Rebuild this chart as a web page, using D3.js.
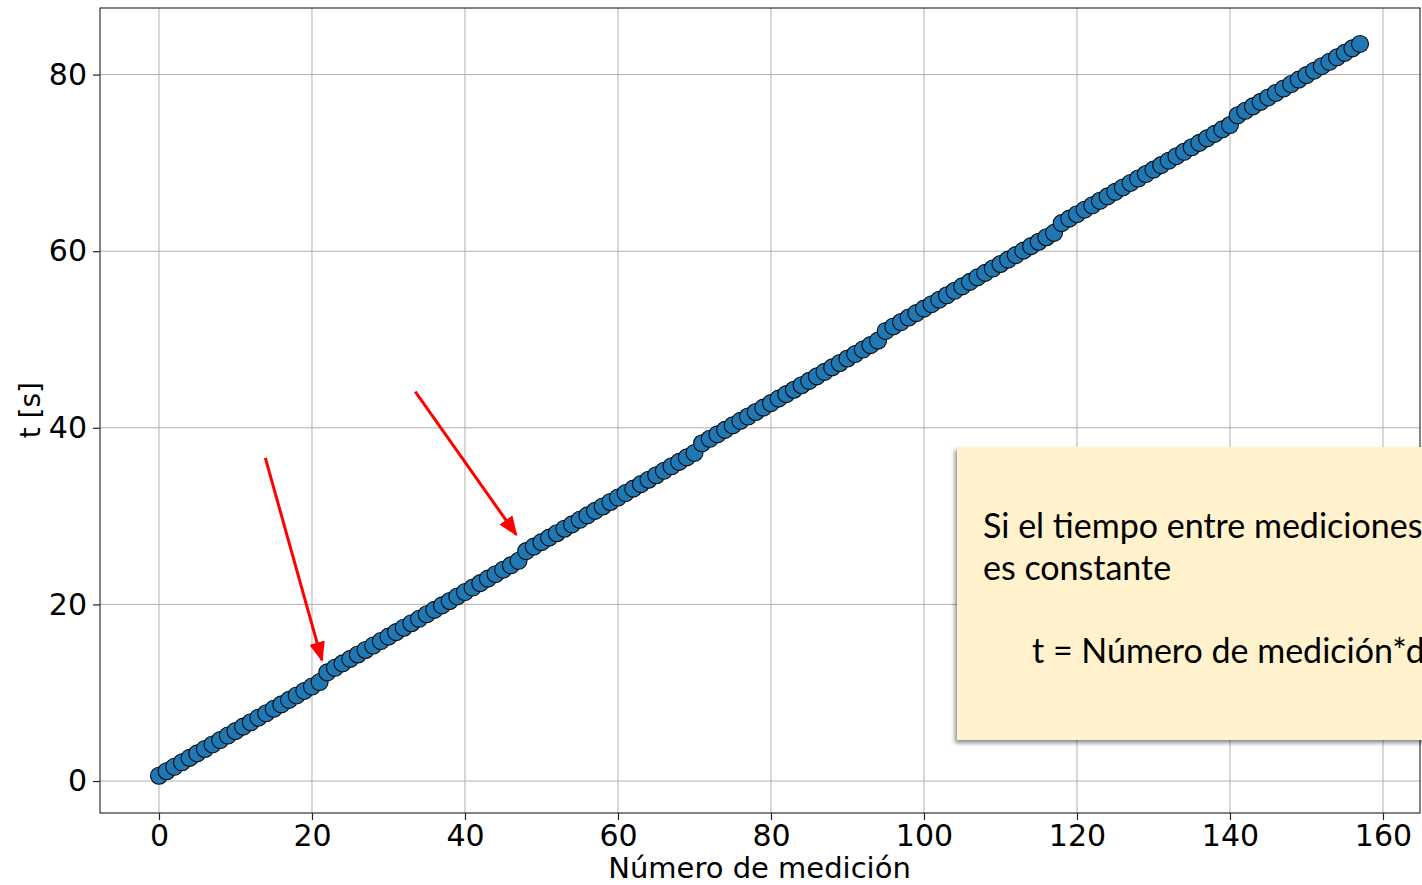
<!DOCTYPE html>
<html>
<head>
<meta charset="utf-8">
<script src="https://cdn.jsdelivr.net/npm/d3@7"></script>
<style>
  html, body { margin: 0; padding: 0; background: #fff; overflow: hidden; }
  svg { display: block; }
</style>
</head>
<body>
<svg id="chart" width="1422" height="885"></svg>
<script>
// t [s] for each measurement number (index = número de medición)
const tValues = [
  0.60, 1.11, 1.61, 2.12, 2.62, 3.13, 3.63, 4.14, 4.64, 5.15,
  5.65, 6.16, 6.66, 7.17, 7.67, 8.18, 8.68, 9.19, 9.69, 10.20,
  10.70, 11.21, 12.31, 12.82, 13.32, 13.83, 14.33, 14.84, 15.34, 15.85,
  16.35, 16.86, 17.36, 17.87, 18.37, 18.88, 19.38, 19.89, 20.39, 20.90,
  21.40, 21.91, 22.41, 22.92, 23.42, 23.93, 24.43, 24.94, 26.04, 26.55,
  27.05, 27.56, 28.06, 28.57, 29.07, 29.58, 30.08, 30.59, 31.09, 31.60,
  32.10, 32.61, 33.11, 33.62, 34.12, 34.63, 35.13, 35.64, 36.14, 36.65,
  37.15, 38.25, 38.76, 39.26, 39.77, 40.27, 40.78, 41.28, 41.79, 42.29,
  42.80, 43.30, 43.81, 44.31, 44.82, 45.32, 45.83, 46.33, 46.84, 47.34,
  47.85, 48.35, 48.86, 49.36, 49.87, 50.97, 51.48, 51.98, 52.49, 52.99,
  53.50, 54.00, 54.51, 55.01, 55.52, 56.02, 56.53, 57.03, 57.54, 58.04,
  58.55, 59.05, 59.56, 60.06, 60.57, 61.07, 61.58, 62.08, 63.18, 63.69,
  64.19, 64.70, 65.20, 65.71, 66.21, 66.72, 67.22, 67.73, 68.23, 68.74,
  69.24, 69.75, 70.25, 70.76, 71.26, 71.77, 72.27, 72.78, 73.28, 73.79,
  74.29, 75.39, 75.90, 76.40, 76.91, 77.41, 77.92, 78.42, 78.93, 79.43,
  79.94, 80.44, 80.95, 81.45, 81.96, 82.46, 82.97, 83.47
];

const xTicks = [0, 20, 40, 60, 80, 100, 120, 140, 160];
const yTicks = [0, 20, 40, 60, 80];

// red arrows pointing at the jumps: [from n, from t, to n, to t]
const arrows = [
  [13.9, 36.6, 21.3, 13.7],
  [33.5, 44.1, 46.7, 27.9],
];

// note text: [text, indent in px, line number]
const noteLines = [
  ['Si el tiempo entre mediciones', 0, 0],
  ['es constante', 0, 1],
  ['t = Número de medición*d', 49, 3],
];

const svg = d3.select('#chart');
const plot = { left: 100, right: 1420, top: 8, bottom: 813 };

const x = d3.scaleLinear().domain([-7.71, 164.84]).range([plot.left, plot.right]);
const y = d3.scaleLinear().domain([-3.62, 87.54]).range([plot.bottom, plot.top]);

const defs = svg.append('defs');
defs.append('marker')
  .attr('id', 'head')
  .attr('markerUnits', 'userSpaceOnUse')
  .attr('viewBox', '0 0 20 16')
  .attr('refX', 18)
  .attr('refY', 8)
  .attr('markerWidth', 20)
  .attr('markerHeight', 16)
  .attr('orient', 'auto')
  .append('path')
  .attr('d', 'M0,0 L20,8 L0,16 Z')
  .attr('fill', '#ff0000');

const shadow = defs.append('filter')
  .attr('id', 'shadow')
  .attr('x', '-10%').attr('y', '-10%')
  .attr('width', '130%').attr('height', '130%');
shadow.append('feDropShadow')
  .attr('dx', -2).attr('dy', 3)
  .attr('stdDeviation', 2)
  .attr('flood-color', '#000')
  .attr('flood-opacity', 0.45);

// grid
const g = svg.append('g');
g.selectAll('.vgrid').data(xTicks).enter().append('line')
  .attr('class', 'vgrid')
  .attr('x1', d => x(d)).attr('x2', d => x(d))
  .attr('y1', plot.top).attr('y2', plot.bottom)
  .attr('stroke', '#b0b0b0').attr('stroke-width', 1);
g.selectAll('.hgrid').data(yTicks).enter().append('line')
  .attr('class', 'hgrid')
  .attr('y1', d => y(d)).attr('y2', d => y(d))
  .attr('x1', plot.left).attr('x2', plot.right)
  .attr('stroke', '#b0b0b0').attr('stroke-width', 1);

// axes
const xAxis = svg.append('g')
  .attr('transform', `translate(0,${plot.bottom})`)
  .call(d3.axisBottom(x).tickValues(xTicks).tickSize(7).tickPadding(5).tickFormat(d3.format('d')));
const yAxis = svg.append('g')
  .attr('transform', `translate(${plot.left},0)`)
  .call(d3.axisLeft(y).tickValues(yTicks).tickSize(7).tickPadding(6).tickFormat(d3.format('d')));

[xAxis, yAxis].forEach(a => {
  a.select('.domain').remove();
  a.selectAll('line').attr('stroke', '#222').attr('stroke-width', 1.2);
  a.selectAll('text')
    .attr('fill', '#000')
    .style('font-family', 'DejaVu Sans')
    .style('font-size', '30px');
});

svg.append('rect')
  .attr('x', plot.left).attr('y', plot.top)
  .attr('width', plot.right - plot.left).attr('height', plot.bottom - plot.top)
  .attr('fill', 'none').attr('stroke', '#333').attr('stroke-width', 1.2);

svg.append('text')
  .attr('x', x(78.5)).attr('y', 878)
  .attr('text-anchor', 'middle')
  .style('font-family', 'DejaVu Sans').style('font-size', '29px')
  .text('Número de medición');

svg.append('text')
  .attr('transform', `translate(40,${y(42)}) rotate(-90)`)
  .attr('text-anchor', 'middle')
  .style('font-family', 'DejaVu Sans').style('font-size', '28px')
  .text('t [s]');

// points
svg.append('g').selectAll('circle').data(tValues).enter().append('circle')
  .attr('cx', (d, i) => x(i))
  .attr('cy', d => y(d))
  .attr('r', 8.5)
  .attr('fill', '#1f77b4')
  .attr('stroke', '#0a0a0a')
  .attr('stroke-width', 1.1);

// arrows
svg.append('g').selectAll('line').data(arrows).enter().append('line')
  .attr('x1', d => x(d[0])).attr('y1', d => y(d[1]))
  .attr('x2', d => x(d[2])).attr('y2', d => y(d[3]))
  .attr('stroke', '#ff0000').attr('stroke-width', 3)
  .attr('marker-end', 'url(#head)');

// note box
const note = svg.append('g');
note.append('rect')
  .attr('x', 957).attr('y', 447)
  .attr('width', 480).attr('height', 293)
  .attr('fill', '#fff2cc')
  .attr('filter', 'url(#shadow)');
note.selectAll('text').data(noteLines).enter().append('text')
  .attr('x', d => 983 + d[1])
  .attr('y', d => 538 + d[2] * 41.5)
  .style('font-family', 'Lato')
  .style('font-size', '34px')
  .attr('fill', '#000')
  .text(d => d[0]);
</script>
</body>
</html>
